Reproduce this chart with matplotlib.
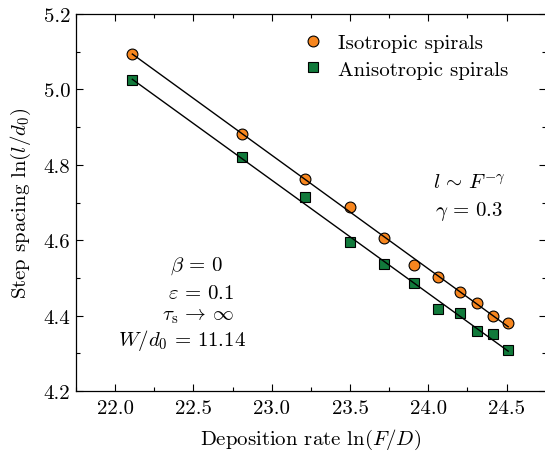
import numpy as np
import matplotlib
matplotlib.use("Agg")
import matplotlib.pyplot as plt
from matplotlib.ticker import MultipleLocator, FormatStrFormatter

plt.rcParams['font.family'] = 'serif'
plt.rcParams['font.serif'] = ['cmr10']
plt.rcParams['mathtext.fontset'] = 'cm'
plt.rcParams['axes.formatter.use_mathtext'] = True

# ln(F/D)
ln_fd = [22.11, 22.81, 23.21, 23.50, 23.72, 23.91, 24.06, 24.20, 24.31, 24.41, 24.51]
# ln(l/d0)
iso = [5.095, 4.882, 4.762, 4.688, 4.606, 4.535, 4.502, 4.462, 4.434, 4.400, 4.380]
aniso = [5.026, 4.820, 4.714, 4.594, 4.537, 4.487, 4.418, 4.408, 4.360, 4.352, 4.309]

iso_color = '#F7861E'
aniso_color = '#117A3B'
fs = 15

fig = plt.figure(figsize=(5.45, 4.56), dpi=100)
ax = fig.add_axes([0.1394, 0.1404, 0.862, 0.8265])

x = np.array(ln_fd)
ax.plot(x, iso, 'o', ms=7.8, mfc=iso_color, mec='black', mew=0.8,
        label='Isotropic spirals', zorder=2)
ax.plot(x, aniso, 's', ms=6.8, mfc=aniso_color, mec='black', mew=0.8,
        label='Anisotropic spirals', zorder=2)

# ajuste lineal
for y in (iso, aniso):
    k, b = np.polyfit(x, y, 1)
    xx = np.array([x[0], x[-1]])
    ax.plot(xx, k * xx + b, '-', color='black', lw=1.0, zorder=3)

ax.set_xlim(21.75, 24.75)
ax.set_ylim(4.2, 5.2)
ax.xaxis.set_major_locator(MultipleLocator(0.5))
ax.xaxis.set_minor_locator(MultipleLocator(0.25))
ax.yaxis.set_major_locator(MultipleLocator(0.2))
ax.yaxis.set_minor_locator(MultipleLocator(0.1))
ax.xaxis.set_major_formatter(FormatStrFormatter('%.1f'))
ax.yaxis.set_major_formatter(FormatStrFormatter('%.1f'))
ax.tick_params(which='both', direction='in', top=True, right=True, labelsize=fs)
ax.tick_params(which='major', length=5, width=0.8)
ax.tick_params(which='minor', length=2.7, width=0.8)
ax.tick_params(axis='x', pad=6)
ax.tick_params(axis='y', pad=4)
for s in ax.spines.values():
    s.set_linewidth(0.9)

ax.set_xlabel(r'Deposition rate $\ln(F/D)$', fontsize=fs, labelpad=7)
ax.set_ylabel(r'Step spacing $\ln(l/d_0)$', fontsize=fs, labelpad=8)

ax.legend(loc='upper left', bbox_to_anchor=(0.483, 0.948), frameon=False,
          fontsize=fs, handlelength=1.0, handletextpad=0.7, labelspacing=0.38,
          borderpad=0, borderaxespad=0)

ax.text(24.26, 4.752, r'$l\,\sim\,F^{-\gamma}$', fontsize=fs, ha='center', va='center')
ax.text(24.26, 4.68, r'$\gamma\,=\,0.3$', fontsize=fs, ha='center', va='center')

ax.text(22.52, 4.533, r'$\beta\,=\,0$', fontsize=fs, ha='center', va='center')
ax.text(22.55, 4.461, r'$\varepsilon\,=\,0.1$', fontsize=fs, ha='center', va='center')
ax.text(22.53, 4.40, r'$\tau_{\rm s}\,\rightarrow\,\infty$', fontsize=fs, ha='center', va='center')
ax.text(22.43, 4.336, r'$W/d_0\,=\,11.14$', fontsize=fs, ha='center', va='center')

fig.savefig('out.png', dpi=100)
